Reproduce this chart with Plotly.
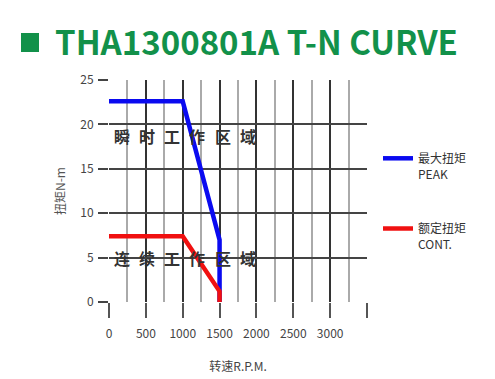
import plotly.graph_objects as go

# ---- data ----
SPEED_PEAK = [0, 1000, 1500, 1500]
TORQUE_PEAK = [22.6, 22.6, 7.0, 0]
SPEED_CONT = [0, 1000, 1500, 1500]
TORQUE_CONT = [7.4, 7.4, 1.2, 0]

X_TICKS = [0, 500, 1000, 1500, 2000, 2500, 3000, 3500]
X_TICK_LABELS = ["0", "500", "1000", "1500", "2000", "2500", "3000", ""]
Y_TICKS = [0, 5, 10, 15, 20, 25]

PEAK_NAME = "最大扭矩<br>PEAK"
CONT_NAME = "额定扭矩<br>CONT."
PEAK_ZONE = list("瞬时工作区域")
CONT_ZONE = list("连续工作区域")
TITLE = "THA1300801A T-N CURVE"

FONT = "Noto Sans CJK SC"

fig = go.Figure()
fig.add_trace(go.Scatter(x=SPEED_PEAK, y=TORQUE_PEAK, mode="lines", name=PEAK_NAME,
                         line=dict(color="#0a0af0", width=4.5), legendgroup="a"))
fig.add_trace(go.Scatter(x=SPEED_CONT, y=TORQUE_CONT, mode="lines", name=CONT_NAME,
                         line=dict(color="#f01010", width=4.5), legendgroup="b"))

annotations = []
for i, ch in enumerate(PEAK_ZONE):
    annotations.append(dict(x=180 + 340 * i, y=18.7, text="<b>" + ch + "</b>", showarrow=False,
                            font=dict(family=FONT, size=16, color="#333")))
for i, ch in enumerate(CONT_ZONE):
    annotations.append(dict(x=180 + 340 * i, y=5.0, text="<b>" + ch + "</b>", showarrow=False,
                            font=dict(family=FONT, size=16, color="#333")))
annotations.append(dict(xref="paper", yref="paper", x=(53 - 109) / 258, y=(302 - 41) / 222,
                        xanchor="left", yanchor="middle", text="<b>" + TITLE + "</b>",
                        showarrow=False, font=dict(family=FONT, size=33, color="#12914a")))

fig.update_layout(
    width=495, height=379,
    margin=dict(l=109, r=128, t=80, b=77),
    paper_bgcolor="white", plot_bgcolor="white",
    font=dict(family=FONT, size=12, color="#444"),
    annotations=annotations,
    shapes=[dict(type="rect", xref="paper", yref="paper",
                 x0=(21 - 109) / 258, x1=(39 - 109) / 258,
                 y0=(302 - 52) / 222, y1=(302 - 33) / 222,
                 fillcolor="#12914a", line=dict(width=0))],
    legend=dict(x=(378 - 109) / 258, y=(302 - 144) / 222, xanchor="left", yanchor="top",
                valign="top", tracegroupgap=36, bgcolor="rgba(0,0,0,0)",
                font=dict(family=FONT, size=12, color="#333")),
    xaxis=dict(range=[0, 3500], tickvals=X_TICKS, ticktext=X_TICK_LABELS,
               automargin=False,
               showgrid=True, gridcolor="#333", gridwidth=1.5,
               ticks="outside", ticklen=15, tickcolor="#555", tickwidth=1.5,
               ticklabelstandoff=6,
               minor=dict(dtick=250, tick0=0, showgrid=True, gridcolor="#aaa", gridwidth=1.5),
               zeroline=False, showline=False,
               title=dict(text="转速R.P.M.", font=dict(size=12, color="#444"), standoff=22),
               tickfont=dict(size=12, color="#444")),
    yaxis=dict(range=[0, 25], tickvals=Y_TICKS, showgrid=True, gridcolor="#444", gridwidth=1.5,
               automargin=False,
               ticks="outside", ticklen=10, tickcolor="#444", tickwidth=1.5,
               ticklabelstandoff=2,
               zeroline=False, showline=False,
               title=dict(text="扭矩N-m", font=dict(size=12, color="#555"), standoff=12),
               tickfont=dict(size=12, color="#444")),
)

fig.write_html("out.html", config={"displayModeBar": False},
               post_script="document.body.style.margin='0';")
